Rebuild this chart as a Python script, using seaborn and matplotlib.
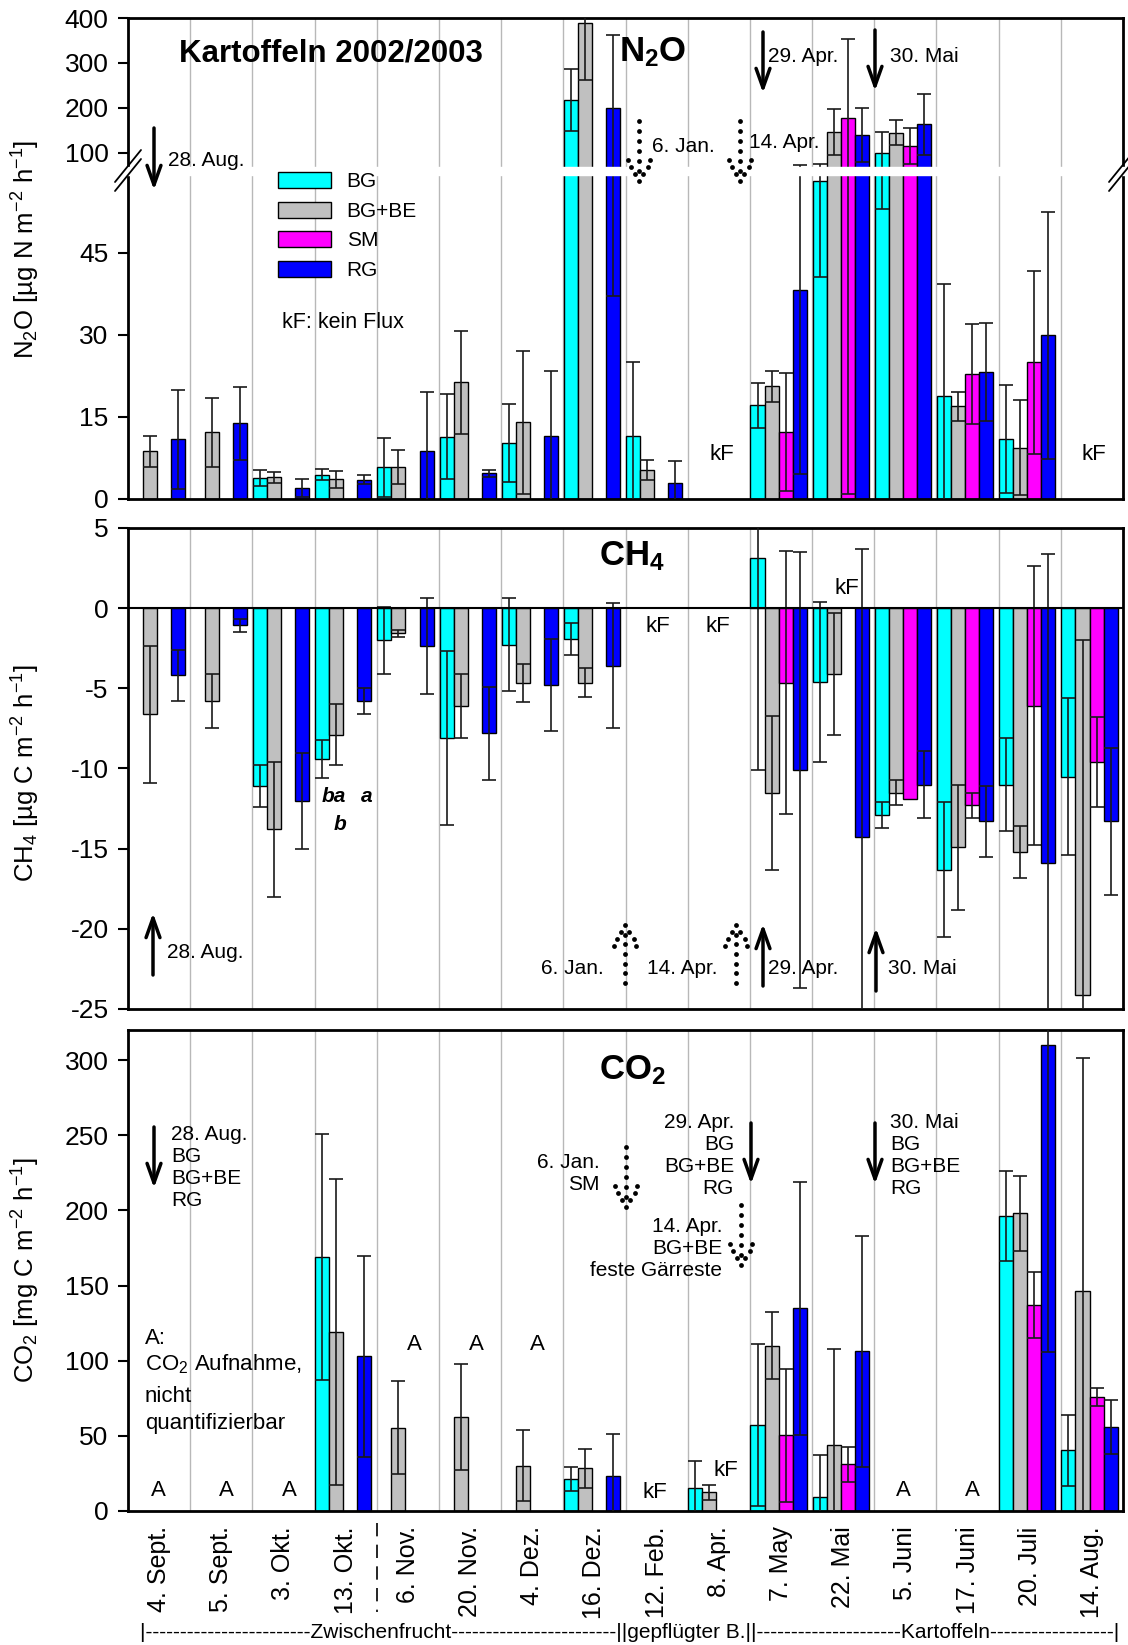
import numpy as np
import pandas as pd
import seaborn as sns
import matplotlib.pyplot as plt
from matplotlib.patches import Patch

nan = np.nan

# sampling dates and treatments
dates = ["4. Sept.", "5. Sept.", "3. Okt.", "13. Okt.", "6. Nov.", "20. Nov.",
         "4. Dez.", "16. Dez.", "12. Feb.", "8. Apr.", "7. May", "22. Mai",
         "5. Juni", "17. Juni", "20. Juli", "14. Aug."]
treatments = ["BG", "BG+BE", "SM", "RG"]
colors = ["#00FFFF", "#C0C0C0", "#FF00FF", "#0000FF"]

# N2O [µg N m-2 h-1] - mean and sd
n2o_bg = [nan, nan, 3.8, 4.4, 5.8, 11.4, 10.2, 217, 11.5, nan, 17.1, 58, 99, 18.9, 11.0, nan]
n2o_bg_sd = [nan, nan, 1.5, 1.0, 5.4, 7.7, 7.1, 70, 13.5, nan, 4.1, 17.5, 46, 20.3, 9.9, nan]
n2o_bgbe = [8.7, 12.2, 4.0, 3.6, 5.8, 21.3, 14.0, 388, 5.3, nan, 20.6, 146, 144, 16.9, 9.4, nan]
n2o_bgbe_sd = [2.8, 6.3, 1.0, 1.6, 3.1, 9.4, 13.1, 126, 1.8, nan, 2.8, 52, 28, 2.6, 8.6, nan]
n2o_sm = [nan] * 10 + [12.3, 177, 115, 22.8, 25.0, nan]
n2o_sm_sd = [nan] * 10 + [10.8, 176, 40, 9.1, 16.7, nan]
n2o_rg = [10.9, 13.8, 2.0, 3.5, 8.8, 4.7, 11.5, 200, 3.0, nan, 38.1, 139, 163, 23.2, 29.9, nan]
n2o_rg_sd = [9.0, 6.7, 1.6, 0.8, 10.8, 0.6, 11.9, 163, 4.0, nan, 33.5, 61, 68, 8.9, 22.6, nan]

# CH4 [µg C m-2 h-1]
ch4_bg = [nan, nan, -11.1, -9.4, -2.0, -8.1, -2.27, -1.95, nan, nan, 3.1, -4.6, -12.9, -16.3, -11.0, -10.5]
ch4_bg_sd = [nan, nan, 1.3, 1.2, 2.1, 5.4, 2.9, 1.0, nan, nan, 13.2, 5.0, 0.8, 4.2, 2.9, 4.9]
ch4_bgbe = [-6.63, -5.8, -13.8, -7.9, -1.58, -6.1, -4.66, -4.66, nan, nan, -11.5, -4.1, -11.5, -14.9, -15.2, -24.1]
ch4_bgbe_sd = [4.3, 1.7, 4.2, 1.9, 0.22, 2.0, 1.2, 0.9, nan, nan, 4.8, 3.8, 0.8, 3.9, 1.6, 22.1]
ch4_sm = [nan] * 10 + [-4.66, nan, -11.9, -12.3, -6.1, -9.6]
ch4_sm_sd = [nan] * 10 + [8.2, nan, nan, 0.8, 8.7, 2.8]
ch4_rg = [-4.18, -1.08, -12.04, -5.8, -2.37, -7.8, -4.8, -3.58, nan, nan, -10.1, -14.3, -11.0, -13.3, -15.9, -13.3]
ch4_rg_sd = [1.6, 0.4, 3.0, 0.8, 3.0, 2.9, 2.85, 3.9, nan, nan, 13.6, 18.0, 2.1, 2.2, 19.3, 4.6]

# CO2 [mg C m-2 h-1]
co2_bg = [nan, nan, nan, 168.9, nan, nan, nan, 21.2, nan, 15, 57, 9.1, nan, nan, 196, 40.4]
co2_bg_sd = [nan, nan, nan, 82, nan, nan, nan, 8, nan, 18, 54, 28, nan, nan, 30, 23.7]
co2_bgbe = [nan, nan, nan, 119, 55.4, 62.5, 30.2, 28.3, nan, 12.4, 110.1, 43.9, nan, nan, 198, 146.6]
co2_bgbe_sd = [nan, nan, nan, 101.7, 31, 35, 23.7, 13, nan, 4.8, 22, 64, nan, nan, 25, 155]
co2_sm = [nan] * 10 + [50.3, 31.1, nan, nan, 137, 76]
co2_sm_sd = [nan] * 10 + [44, 11.5, nan, nan, 22, 6]
co2_rg = [nan, nan, nan, 102.9, nan, nan, nan, 23, nan, nan, 134.8, 106.2, nan, nan, 310, 56]
co2_rg_sd = [nan, nan, nan, 67, nan, nan, nan, 28, nan, nan, 84, 77, nan, nan, 204, 18]

sns.set_theme(style="white", rc={"axes.edgecolor": "black", "text.color": "black",
                                 "axes.labelcolor": "black", "xtick.color": "black",
                                 "ytick.color": "black"})
plt.rcParams['font.family'] = ['Liberation Sans', 'DejaVu Sans']
plt.rcParams['mathtext.fontset'] = 'custom'
plt.rcParams['mathtext.rm'] = 'Liberation Sans'
plt.rcParams['mathtext.it'] = 'Liberation Sans:italic'
plt.rcParams['mathtext.bf'] = 'Liberation Sans:bold'
plt.rcParams['axes.unicode_minus'] = False

W = 0.904            # width of a group of 4 bars
X0 = -W / 2 - 0.01   # left edge of a date slot
FW, FH = 1128, 1645

fig = plt.figure(figsize=(FW / 100, FH / 100), dpi=100)


def make_ax(top, bottom):
    return fig.add_axes([128 / FW, 1 - bottom / FH, (1123 - 128) / FW, (bottom - top) / FH])


def panel(ax, means, sds):
    rows = []
    for trt, vals in zip(treatments, means):
        for d, v in zip(dates, vals):
            if not np.isnan(v):
                rows.append((d, trt, v))
    df = pd.DataFrame(rows, columns=['date', 'trt', 'value'])
    sns.barplot(data=df, x='date', y='value', hue='trt', order=dates, hue_order=treatments,
                palette=colors, width=W, saturation=1, edgecolor='black', linewidth=1,
                errorbar=None, legend=False, ax=ax)
    bw = W / len(treatments)
    for j, (m, s) in enumerate(zip(means, sds)):
        x = np.arange(len(dates)) - W / 2 + bw * (j + 0.5)
        ax.errorbar(x, m, yerr=s, fmt='none', ecolor='#1a1a1a', elinewidth=1.2,
                    capsize=5, capthick=1.2, zorder=3)
    for k in range(1, len(dates)):
        ax.axvline(k + X0, color='#b8b8b8', lw=1, zorder=0.5)
    ax.set_xlim(X0, len(dates) + X0)
    ax.set_xlabel('')
    for sp in ax.spines.values():
        sp.set_linewidth(2)
        sp.set_visible(True)
    ax.tick_params(axis='y', direction='out', length=7, width=1.5, labelsize=19, pad=7, left=True)
    ax.tick_params(axis='x', length=0)


# ---------------- N2O ----------------
ax1 = make_ax(18, 499)
panel(ax1, [n2o_bg, n2o_bgbe, n2o_sm, n2o_rg], [n2o_bg_sd, n2o_bgbe_sd, n2o_sm_sd, n2o_rg_sd])
brk, r = 60.0, 0.0819


def fwd(y):
    y = np.asarray(y, float)
    return np.where(y <= brk, y, brk + (y - brk) * r)


def inv(y):
    y = np.asarray(y, float)
    return np.where(y <= brk, y, brk + (y - brk) / r)


ax1.set_yscale('function', functions=(fwd, inv))
ax1.set_ylim(0, 400)
ax1.set_yticks([0, 15, 30, 45, 100, 200, 300, 400])
ax1.set_yticklabels(['0', '15', '30', '45', '100', '200', '300', '400'])
ax1.set_xticklabels([])
ax1.axhspan(59.2, 67.8, xmin=-0.012, xmax=1.012, color='white', zorder=5, clip_on=False)
ax1.set_ylabel(r"N$_2$O [µg N m$^{-2}$ h$^{-1}$]", fontsize=18.5)
ax1.yaxis.set_label_coords(-0.086, 0.52)
handles = [Patch(facecolor=c, edgecolor='black', lw=1, label=t) for c, t in zip(colors, treatments)]
ax1.legend(handles=handles, loc='upper left', bbox_to_anchor=(278 / FW, 1 - 172 / FH),
           bbox_transform=fig.transFigure, frameon=False, fontsize=15, handlelength=2.55,
           handleheight=0.8, labelspacing=0.5, handletextpad=0.75, borderpad=0, borderaxespad=0)

# ---------------- CH4 ----------------
ax2 = make_ax(528, 1009)
panel(ax2, [ch4_bg, ch4_bgbe, ch4_sm, ch4_rg], [ch4_bg_sd, ch4_bgbe_sd, ch4_sm_sd, ch4_rg_sd])
ax2.axhline(0, color='black', lw=1.5, zorder=4)
ax2.set_ylim(-25, 5)
ax2.set_yticks(range(-25, 6, 5))
ax2.set_xticklabels([])
ax2.set_ylabel(r"CH$_4$ [µg C m$^{-2}$ h$^{-1}$]", fontsize=18.5)
ax2.yaxis.set_label_coords(-0.086, 0.49)

# ---------------- CO2 ----------------
ax3 = make_ax(1030, 1511)
panel(ax3, [co2_bg, co2_bgbe, co2_sm, co2_rg], [co2_bg_sd, co2_bgbe_sd, co2_sm_sd, co2_rg_sd])
ax3.set_ylim(0, 320)
ax3.set_yticks(range(0, 301, 50))
ax3.set_xticks(np.arange(len(dates)) + X0 + 0.5)
ax3.set_xticklabels(dates, rotation=90, fontsize=18, va='top', ha='center')
ax3.tick_params(axis='x', pad=11)
ax3.set_ylabel(r"CO$_2$ [mg C m$^{-2}$ h$^{-1}$]", fontsize=18.5)
ax3.yaxis.set_label_coords(-0.086, 0.5)

# ---------------- annotations (pixel overlay) ----------------
ov = fig.add_axes([0, 0, 1, 1], zorder=10)
ov.set_xlim(0, FW)
ov.set_ylim(FH, 0)
ov.axis('off')
ov.patch.set_alpha(0)


def arrow(x, y_tail, y_head):
    ov.annotate('', xy=(x, y_head), xytext=(x, y_tail),
                arrowprops=dict(arrowstyle='->,head_length=0.7,head_width=0.25', lw=2.5,
                                color='black', shrinkA=0, shrinkB=0, mutation_scale=20))


def dot_arrow(x, y_tail, y_head):
    # column of dots with a loose "v" of dots at the head
    d = np.sign(y_head - y_tail)
    xs = [x] * 7
    ys = list(np.linspace(y_tail, y_head, 7))
    for k, dx in ((1, 4.0), (2, 8.5), (3, 11.0)):
        xs += [x - dx, x + dx]
        ys += [y_head - d * 7 * k] * 2
    ov.scatter(xs, ys, s=12, color='black', linewidths=0)


def txt(x, y, s, size=15, ha='left', va='center', **kw):
    ov.text(x, y, s, fontsize=size, ha=ha, va=va, **kw)


# break marks
for dy in (0, -9):
    for xc in (128, 1122):
        ov.plot([xc - 13, xc + 13], [175 + dy + 16, 175 + dy - 16], color='black', lw=1.3)

txt(331, 54, "Kartoffeln 2002/2003", size=22.5, ha='center', weight='bold')
txt(653, 52, r"N$_\mathbf{2}$O", size=25, ha='center', weight='bold')
arrow(154, 128, 190)
txt(168, 160, "28. Aug.")
dot_arrow(639, 121, 181)
txt(652, 147, "6. Jan.")
dot_arrow(740, 121, 181)
txt(749, 143, "14. Apr.")
arrow(763, 32, 93)
txt(768, 56, "29. Apr.")
arrow(875, 30, 91)
txt(890, 56, "30. Mai")
txt(282, 322, "kF: kein Flux", size=15.5)
txt(722, 455, "kF", size=16, ha='center')
txt(1094, 455, "kF", size=16, ha='center')

# CH4
txt(632, 556, r"CH$_\mathbf{4}$", size=25, ha='center', weight='bold')
txt(334, 797, "ba", size=15, ha='center', weight='bold', style='italic')
txt(367, 797, "a", size=15, ha='center', weight='bold', style='italic')
txt(340, 824, "b", size=15, ha='center', weight='bold', style='italic')
txt(658, 626, "kF", size=16, ha='center')
txt(718, 626, "kF", size=16, ha='center')
txt(847, 589, "kF", size=16, ha='center')
arrow(153, 975, 913)
txt(167, 953, "28. Aug.")
txt(604, 968, "6. Jan.", ha='right')
dot_arrow(625, 983, 925)
txt(647, 968, "14. Apr.")
dot_arrow(736, 983, 925)
arrow(763, 986, 924)
txt(768, 968, "29. Apr.")
arrow(876, 991, 928)
txt(888, 968, "30. Mai")

# CO2
txt(632, 1070, r"CO$_\mathbf{2}$", size=25, ha='center', weight='bold')
arrow(154, 1127, 1188)
txt(171, 1168, "28. Aug.\nBG\nBG+BE\nRG", linespacing=1.2)
txt(600, 1174, "6. Jan.\nSM", ha='right', linespacing=1.2)
dot_arrow(626, 1147, 1207)
txt(734, 1155, "29. Apr.\nBG\nBG+BE\nRG", ha='right', multialignment='right', linespacing=1.2)
arrow(751, 1123, 1184)
txt(722, 1249, "14. Apr.\nBG+BE\nfeste Gärreste", ha='right', multialignment='right', linespacing=1.2)
dot_arrow(741, 1205, 1265)
txt(890, 1155, "30. Mai\nBG\nBG+BE\nRG", linespacing=1.2)
arrow(875, 1123, 1184)
txt(145, 1338, "A:", size=16)
txt(145, 1364, r"CO$_2$ Aufnahme,", size=16)
txt(145, 1396, "nicht", size=16)
txt(145, 1423, "quantifizierbar", size=16)
for xa in (158, 226, 289, 903, 972):
    txt(xa, 1490, "A", size=16, ha='center')
for xa in (414, 476, 537):
    txt(xa, 1345, "A", size=16, ha='center')
txt(655, 1493, "kF", size=16, ha='center')
txt(726, 1471, "kF", size=16, ha='center')

# separator and period line below the dates
ov.plot([377, 377], [1523, 1612], color='black', lw=1.2, dashes=(8, 5))
period = ("|" + "-" * 24 + "Zwischenfrucht" + "-" * 24 + "||gepflügter B.||" +
          "-" * 21 + "Kartoffeln" + "-" * 18 + "|")
txt(140, 1633, period, size=15)

fig.savefig('out.png', dpi=100)
